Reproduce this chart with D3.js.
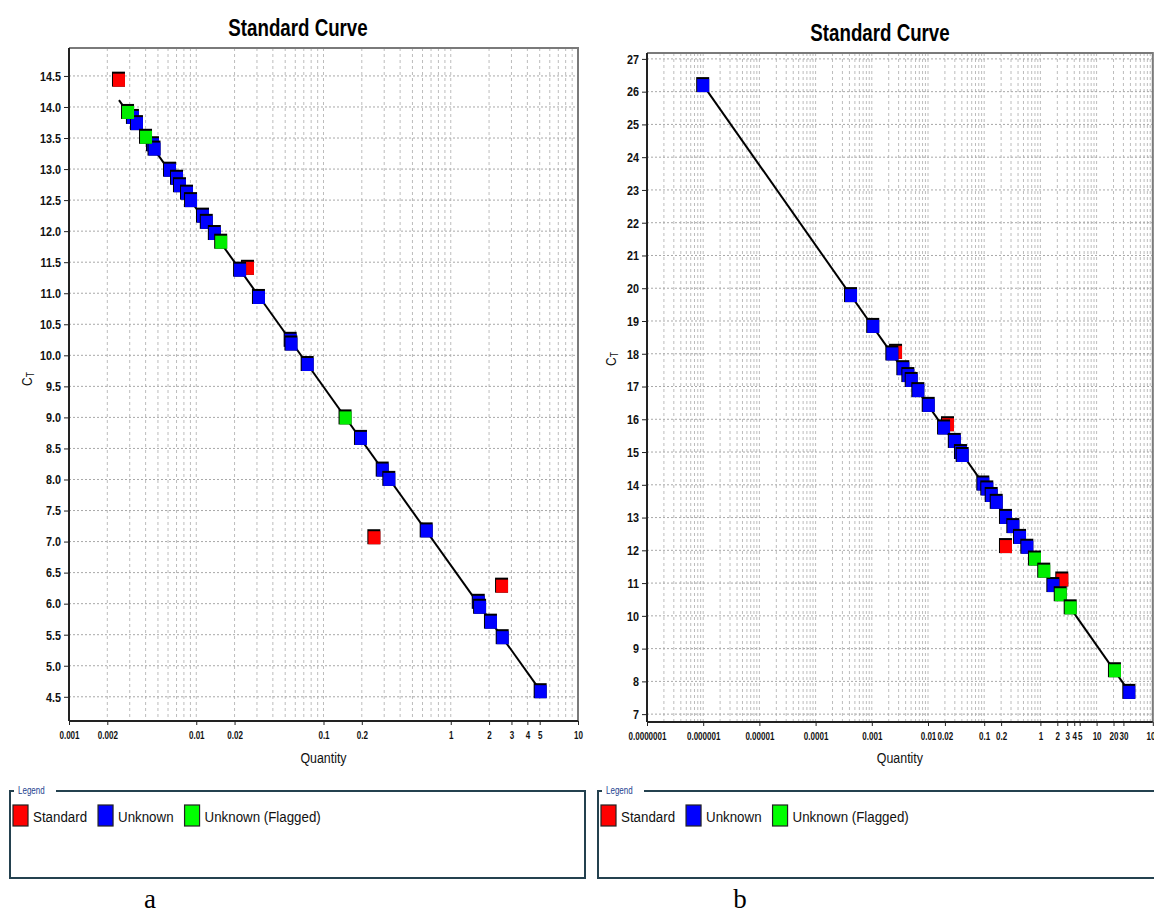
<!DOCTYPE html>
<html><head><meta charset="utf-8">
<script src="https://cdn.jsdelivr.net/npm/d3@7/dist/d3.min.js"></script>
<style>
body{margin:0;background:#fff;}
svg{display:block;}
.narrow{font-family:"Liberation Sans",Arial,sans-serif;}
</style></head><body>
<svg id="c" width="1154" height="915"></svg>
<script>
// ---------------- DATA ----------------
// Chart a
const aStandardQty = [0.00247, 0.0255, 0.251, 2.53];
const aStandardCt  = [14.44, 11.41, 7.07, 6.29];
const aUnknownQty = [0.00318, 0.00342, 0.00457, 0.0047, 0.00622, 0.00706, 0.00745, 0.00846, 0.0091, 0.0113, 0.0121, 0.0140, 0.0221, 0.0311, 0.0552, 0.0560, 0.0751, 0.197, 0.292, 0.329, 0.647, 1.66, 1.70, 2.07, 2.56, 5.09];
const aUnknownCt  = [13.84, 13.74, 13.40, 13.33, 12.99, 12.86, 12.74, 12.62, 12.50, 12.25, 12.15, 11.97, 11.38, 10.94, 10.25, 10.19, 9.86, 8.67, 8.16, 8.01, 7.18, 6.03, 5.95, 5.71, 5.46, 4.59];
const aFlaggedQty = [0.00291, 0.00403, 0.0157, 0.149];
const aFlaggedCt  = [13.92, 13.52, 11.83, 9.00];
const aFitQty = [0.00247, 5.09];
const aFitCt  = [14.11, 4.59];
const aXTicks = [0.001, 0.002, 0.01, 0.02, 0.1, 0.2, 1, 2, 3, 4, 5, 10];
const aXTickLabels = ["0.001", "0.002", "0.01", "0.02", "0.1", "0.2", "1", "2", "3", "4", "5", "10"];
const aYTicks = [4.5, 5.0, 5.5, 6.0, 6.5, 7.0, 7.5, 8.0, 8.5, 9.0, 9.5, 10.0, 10.5, 11.0, 11.5, 12.0, 12.5, 13.0, 13.5, 14.0, 14.5];
const aYTickLabels = ["4.5","5.0","5.5","6.0","6.5","7.0","7.5","8.0","8.5","9.0","9.5","10.0","10.5","11.0","11.5","12.0","12.5","13.0","13.5","14.0","14.5"];

// Chart b
const bStandardQty = [0.00270, 0.0227, 0.244, 2.45];
const bStandardCt  = [18.06, 15.85, 12.13, 11.11];
const bUnknownQty = [1.0e-6, 4.27e-4, 1.06e-3, 2.32e-3, 3.64e-3, 4.47e-3, 5.13e-3, 6.73e-3, 0.0103, 0.0193, 0.030, 0.0386, 0.0414, 0.0964, 0.1135, 0.136, 0.167, 0.244, 0.330, 0.434, 0.585, 1.70, 38.2];
const bUnknownCt  = [26.20, 19.79, 18.85, 18.01, 17.56, 17.35, 17.20, 16.89, 16.44, 15.75, 15.34, 15.00, 14.91, 14.04, 13.89, 13.69, 13.48, 13.02, 12.74, 12.41, 12.11, 10.94, 7.68];
const bFlaggedQty = [0.80, 1.17, 2.30, 3.46, 21.2];
const bFlaggedCt  = [11.75, 11.38, 10.66, 10.26, 8.34];
const bFitQty = [1.0e-6, 38.2];
const bFitCt  = [26.20, 7.68];
const bXTicks = [1e-7, 1e-6, 1e-5, 1e-4, 1e-3, 0.01, 0.02, 0.1, 0.2, 1, 2, 3, 4, 5, 10, 20, 30, 100];
const bXTickLabels = ["0.0000001","0.000001","0.00001","0.0001","0.001","0.01","0.02","0.1","0.2","1","2","3","4","5","10","20","30","100"];
const bYTicks = [7,8,9,10,11,12,13,14,15,16,17,18,19,20,21,22,23,24,25,26,27];
const bYTickLabels = bYTicks.map(String);

const legendNames = ["Standard", "Unknown", "Unknown (Flagged)"];
const legendColors = ["#ff0000", "#0000ff", "#00ff00"];

// ---------------- DRAW ----------------
const svg = d3.select("#c");
svg.append("rect").attr("width",1154).attr("height",915).attr("fill","#fff");

function zip(q, c){ return q.map((v,i)=>({q:v, ct:c[i]})); }

function ntext(parent, x, y, sx, txt, size, opts={}){
  const t = parent.append("text").attr("class","narrow")
    .attr("transform",`translate(${x},${y}) scale(${sx},1)`)
    .attr("font-size",size).attr("fill",opts.fill||"#111")
    .attr("text-anchor",opts.anchor||"start")
    .attr("font-weight",opts.weight||"normal");
  t.text(txt);
  return t;
}

function drawChart(cfg){
  const g = svg.append("g");
  const x = d3.scaleLog().domain(cfg.xDomain).range(cfg.xRange);
  const y = d3.scaleLinear().domain(cfg.yDomain).range(cfg.yRange);
  const [x0,x1] = cfg.xRange, [y0,y1] = cfg.yRange;

  const lo = Math.round(Math.log10(cfg.xDomain[0])), hi = Math.round(Math.log10(cfg.xDomain[1]));
  const vgrid = [];
  for(let d=lo; d<hi; d++) for(let m=1;m<=9;m++) vgrid.push(m*Math.pow(10,d));
  vgrid.push(Math.pow(10,hi));
  g.append("g").selectAll("line").data(vgrid).join("line")
    .attr("x1",d=>x(d)).attr("x2",d=>x(d)).attr("y1",y1).attr("y2",y0)
    .attr("stroke","#bcbcbc").attr("stroke-width",1).attr("stroke-dasharray","3,3");

  g.append("g").selectAll("line").data(cfg.yTicks).join("line")
    .attr("x1",x0).attr("x2",x1).attr("y1",d=>y(d)).attr("y2",d=>y(d))
    .attr("stroke","#a8a8a8").attr("stroke-width",1).attr("stroke-dasharray","2,2");

  g.append("path").attr("d",`M${x0},${y1}H${x1}V${y0}`).attr("fill","none").attr("stroke","#7a7a7a").attr("stroke-width",2);

  const ysx = 0.8;
  const yAxis = d3.axisLeft(y).tickValues(cfg.yTicks).tickFormat((d,i)=>cfg.yTickLabels[i]).tickSize(5).tickPadding(3);
  const ya = g.append("g").attr("transform",`translate(${x0},0)`).call(yAxis);
  ya.select(".domain").attr("stroke","#222").attr("stroke-width",2).attr("d",`M0,${y1}V${y0}`);
  ya.selectAll(".tick line").attr("stroke","#222");
  ya.selectAll("text").attr("class","narrow").attr("font-size",13.5).attr("font-weight","bold").attr("fill","#111")
    .attr("x",-8/ysx).attr("transform",`scale(${ysx},1)`);

  const xsx = 0.7;
  const xAxis = d3.axisBottom(x).tickValues(cfg.xTicks).tickFormat((d,i)=>cfg.xTickLabels[i]).tickSize(4).tickPadding(6);
  const xa = g.append("g").attr("transform",`translate(0,${y0})`).call(xAxis);
  xa.select(".domain").attr("stroke","#222").attr("stroke-width",2).attr("d",`M${x0},0H${x1}`);
  xa.selectAll(".tick line").attr("stroke","#222");
  xa.selectAll("text").attr("class","narrow").attr("font-size",11.5).attr("font-weight","bold").attr("fill","#111")
    .attr("transform",`scale(${xsx},1)`);

  const line = d3.line().x(d=>x(d.q)).y(d=>y(d.ct));
  g.append("path").datum(zip(cfg.fitQty,cfg.fitCt)).attr("d",line)
    .attr("fill","none").attr("stroke","#000").attr("stroke-width",2);

  const w=12, h=14;
  function pts(data,color){
    const s = g.append("g").selectAll("g").data(data).join("g")
      .attr("transform",d=>`translate(${x(d.q)},${y(d.ct)})`);
    s.append("rect").attr("x",-w/2-1).attr("y",-h/2-1).attr("width",w+1).attr("height",h+1).attr("fill","#000");
    s.append("rect").attr("x",-w/2).attr("y",-h/2+1).attr("width",w).attr("height",h-1).attr("fill",color);
  }
  pts(zip(cfg.stdQ,cfg.stdC),"#ff0000");
  pts(zip(cfg.unkQ,cfg.unkC),"#0000ff");
  pts(zip(cfg.flgQ,cfg.flgC),"#00ee00");

  ntext(svg, cfg.titleX, cfg.titleY, 0.78, "Standard Curve", 24, {anchor:"middle", weight:"bold", fill:"#000"});
  ntext(svg, (x0+x1)/2, 763, 0.8, "Quantity", 15.5, {anchor:"middle"});
  const yl = svg.append("text").attr("class","narrow")
    .attr("transform",`translate(${cfg.ylabX},${cfg.ylabY}) rotate(-90) scale(0.85,1)`)
    .attr("text-anchor","middle").attr("font-size",14).attr("fill","#111");
  yl.append("tspan").text("C");
  yl.append("tspan").attr("font-size",10).attr("dy",2).text("T");

  const L = cfg.legend;
  const lg = svg.append("g");
  lg.append("path").attr("d",`M${L.x+46},${L.y}H${L.x+L.w}V${L.y+L.h}H${L.x}V${L.y}H${L.x+4}`)
    .attr("fill","none").attr("stroke","#24414f").attr("stroke-width",2);
  ntext(lg, L.x+8, L.y+3, 0.8, "Legend", 10, {fill:"#1d3f8f"});
  let cx = L.x+3;
  const lsx = 0.86;
  legendNames.forEach((name,i)=>{
    lg.append("rect").attr("x",cx).attr("y",L.y+14).attr("width",15).attr("height",21)
      .attr("fill",legendColors[i]).attr("stroke","#222").attr("stroke-width",1.2);
    const t = ntext(lg, cx+20, L.y+31, lsx, name, 15.5, {});
    cx += 20 + t.node().getComputedTextLength()*lsx + 11;
  });
  svg.append("text").attr("x",cfg.letterX).attr("y",908).attr("text-anchor","middle")
    .attr("font-family","Liberation Serif, DejaVu Serif, serif").attr("font-size",27).attr("fill","#000").text(cfg.letter);
}

drawChart({
  xDomain:[0.001,10], xRange:[69,578], yDomain:[4.11,14.95], yRange:[721,48],
  xTicks:aXTicks, xTickLabels:aXTickLabels, yTicks:aYTicks, yTickLabels:aYTickLabels,
  stdQ:aStandardQty, stdC:aStandardCt, unkQ:aUnknownQty, unkC:aUnknownCt, flgQ:aFlaggedQty, flgC:aFlaggedCt,
  fitQty:aFitQty, fitCt:aFitCt,
  titleX:298, titleY:36, ylabX:32, ylabY:379,
  legend:{x:10,y:791,w:575,h:87}, letter:"a", letterX:150
});
drawChart({
  xDomain:[1e-7,100], xRange:[647,1152.8], yDomain:[6.76,27.18], yRange:[722,53],
  xTicks:bXTicks, xTickLabels:bXTickLabels, yTicks:bYTicks, yTickLabels:bYTickLabels,
  stdQ:bStandardQty, stdC:bStandardCt, unkQ:bUnknownQty, unkC:bUnknownCt, flgQ:bFlaggedQty, flgC:bFlaggedCt,
  fitQty:bFitQty, fitCt:bFitCt,
  titleX:880, titleY:41, ylabX:616, ylabY:359,
  legend:{x:598,y:791,w:570,h:87}, letter:"b", letterX:740
});
</script>
</body></html>
